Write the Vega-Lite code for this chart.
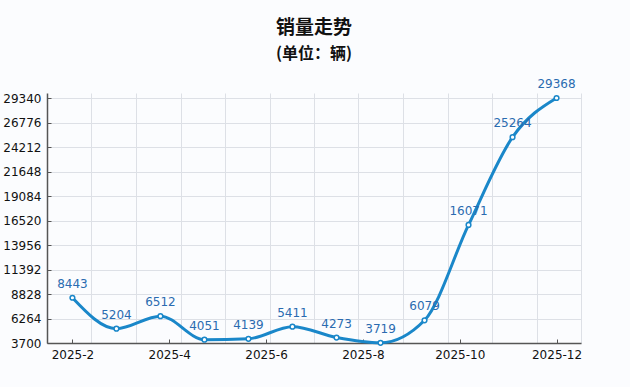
{
  "$schema": "https://vega.github.io/schema/vega-lite/v6.json",
  "width": 534,
  "height": 250,
  "autosize": {"type": "none"},
  "padding": {"left": 47, "top": 93, "right": 49, "bottom": 44},
  "background": "#fbfcfe",
  "title": {
    "text": "销量走势",
    "subtitle": "(单位：辆)",
    "anchor": "middle",
    "font": "Noto Sans CJK SC",
    "fontSize": 19,
    "fontWeight": "bold",
    "color": "#111111",
    "subtitleFont": "Noto Sans CJK SC",
    "subtitleFontSize": 16,
    "subtitleFontWeight": "bold",
    "subtitleColor": "#111111",
    "subtitlePadding": 8,
    "offset": 16
  },
  "config": {
    "view": {"stroke": null},
    "axis": {
      "labelFont": "DejaVu Sans",
      "labelFontSize": 12,
      "labelColor": "#111111",
      "gridColor": "#dde0e6",
      "gridWidth": 1,
      "domainColor": "#555555",
      "domainWidth": 1.5,
      "tickColor": "#555555",
      "labelOverlap": false,
      "title": null
    }
  },
  "data": {
    "values": [
      {"month": 2, "sales": 8443},
      {"month": 2.909, "sales": 5204},
      {"month": 3.818, "sales": 6512},
      {"month": 4.727, "sales": 4051},
      {"month": 5.636, "sales": 4139},
      {"month": 6.545, "sales": 5411},
      {"month": 7.455, "sales": 4273},
      {"month": 8.364, "sales": 3719},
      {"month": 9.273, "sales": 6079},
      {"month": 10.182, "sales": 16071},
      {"month": 11.091, "sales": 25264},
      {"month": 12, "sales": 29368}
    ]
  },
  "layer": [
    {
      "mark": {"type": "point", "opacity": 0},
      "encoding": {
        "x": {
          "field": "month", "type": "quantitative",
          "scale": {"domain": [1.475, 12.505], "nice": false, "zero": false},
          "axis": {
            "orient": "bottom",
            "values": [2.394, 3.313, 4.233, 5.152, 6.071, 6.99, 7.909, 8.829, 9.748, 10.667, 11.586, 12.505],
            "tickCount": 30,
            "grid": true,
            "labels": false,
            "ticks": false,
            "domain": false
          }
        },
        "y": {
          "field": "sales", "type": "quantitative",
          "scale": {"domain": [3700, 29890], "nice": false, "zero": false},
          "axis": {
            "values": [3700, 6264, 8828, 11392, 13956, 16520, 19084, 21648, 24212, 26776, 29340],
            "tickCount": 30,
            "format": "d",
            "grid": true,
            "tickSize": -4,
            "labelPadding": 10,
            "labelFlush": false
          }
        }
      }
    },
    {
      "mark": {"type": "line", "interpolate": "monotone", "color": "#1a87c9", "strokeWidth": 3},
      "encoding": {
        "x": {
          "field": "month", "type": "quantitative",
          "axis": {
            "orient": "bottom",
            "values": [2, 4, 6, 8, 10, 12],
            "tickCount": 30,
            "labelExpr": "'2025-' + datum.value",
            "grid": false,
            "tickSize": -4,
            "labelPadding": 10,
            "labelFlush": false
          }
        },
        "y": {"field": "sales", "type": "quantitative"}
      }
    },
    {
      "mark": {"type": "point", "filled": true, "fill": "#ffffff", "stroke": "#1a87c9", "strokeWidth": 1.5, "size": 22, "opacity": 1},
      "encoding": {
        "x": {"field": "month", "type": "quantitative", "axis": null},
        "y": {"field": "sales", "type": "quantitative"}
      }
    },
    {
      "mark": {"type": "text", "font": "DejaVu Sans", "fontSize": 12, "color": "#2a6bb0", "dy": -14},
      "encoding": {
        "x": {"field": "month", "type": "quantitative", "axis": null},
        "y": {"field": "sales", "type": "quantitative"},
        "text": {"field": "sales", "type": "quantitative", "format": "d"}
      }
    }
  ],
  "resolve": {"axis": {"x": "independent"}}
}
